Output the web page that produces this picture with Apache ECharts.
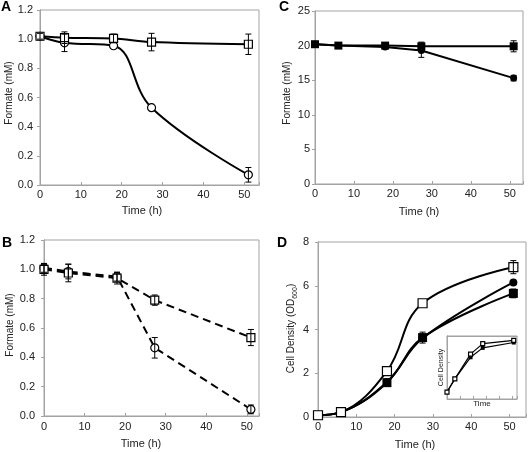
<!DOCTYPE html>
<html>
<head>
<meta charset="utf-8">
<script src="https://cdn.jsdelivr.net/npm/echarts@6/dist/echarts.min.js"></script>
<style>
html,body{margin:0;padding:0;background:#fff;}
#chart{width:529px;height:452px;}
</style>
</head>
<body>
<div id="chart"></div>
<script>
// ---- data ----
const timeH = [0, 6, 18, 27.3, 51];
const xTicks = [0, 10, 20, 30, 40, 50];

// Panel A (Formate, mM)
const aSquare    = [1.02, 1.01, 1.005, 0.98, 0.965];
const aSquareErr = [0.02, 0.04, 0.03, 0.06, 0.07];
const aCircle    = [1.02, 0.975, 0.955, 0.53, 0.07];
const aCircleErr = [0, 0.06, 0, 0, 0.05];

// Panel B (Formate, mM)
const bSquare    = [1.00, 0.975, 0.94, 0.79, 0.535];
const bSquareErr = [0.04, 0.06, 0.04, 0.035, 0.055];
const bCircle    = [1.01, 0.985, 0.95, 0.465, 0.045];
const bCircleErr = [0.03, 0.05, 0.03, 0.07, 0.03];

// Panel C (Formate, mM)
const cSquare    = [20.2, 20.0, 20.0, 19.9, 19.9];
const cSquareErr = [0, 0, 0.3, 0.6, 0.8];
const cCircle    = [20.2, 20.0, 19.8, 19.3, 15.3];
const cCircleErr = [0, 0, 0, 1.0, 0.4];

// Panel D (Cell density, OD600)
const dOpenSq      = [0.08, 0.22, 2.1, 5.2, 6.85];
const dOpenSqErr   = [0, 0, 0, 0, 0.3];
const dCircle      = [0.08, 0.22, 1.6, 3.6, 6.15];
const dCircleErr   = [0, 0, 0, 0, 0];
const dFilledSq    = [0.08, 0.22, 1.57, 3.63, 5.65];
const dFilledSqErr = [0, 0, 0, 0.25, 0.2];

// Inset (log cell density)
const insetOpen   = [0.08, 0.25, 2.1, 5.2, 6.85];
const insetFilled = [0.08, 0.25, 1.6, 3.6, 5.7];

// ---- styling ----
const FONT = "'Liberation Sans', Arial, sans-serif";
const GRAY = '#a3a3a3';
const TXT = '#222';

const grids = [
  {left: 40,  top: 10,  width: 219, height: 175},  // A
  {left: 44,  top: 240, width: 215, height: 176},  // B
  {left: 315, top: 11,  width: 208, height: 173},  // C
  {left: 318, top: 242, width: 208, height: 175},  // D
  {left: 447, top: 336, width: 70,  height: 63, backgroundColor: '#fff'}   // inset
].map(g => Object.assign({show: true, borderColor: GRAY, borderWidth: 1, containLabel: false}, g));

const xAxes = [], yAxes = [];
function addAxes(gi, c) {
  xAxes.push({
    type: 'value', gridIndex: gi, min: 0, max: c.xmax, interval: 10,
    axisLine: {show: true, lineStyle: {color: GRAY}},
    axisTick: {show: c.xticks !== false, inside: true, length: 3, lineStyle: {color: GRAY}},
    axisLabel: {show: c.xlabels !== false, fontSize: 11, color: TXT, fontFamily: FONT, margin: c.xmargin || 4,
      formatter: v => (xTicks.indexOf(v) >= 0 ? String(v) : '')},
    splitLine: {show: false},
    name: c.xname, nameLocation: 'middle', nameGap: c.xgap,
    nameTextStyle: {fontSize: c.xnameSize || 11, color: TXT, fontFamily: FONT, padding: c.xnamePad || 0}
  });
  xAxes.push({
    type: 'value', gridIndex: gi, position: 'top', min: 0, max: c.xmax, interval: 10,
    axisLine: {show: true, lineStyle: {color: GRAY}},
    axisTick: {show: false}, axisLabel: {show: false}, splitLine: {show: false}
  });
  yAxes.push({
    type: c.ylog ? 'log' : 'value', gridIndex: gi, min: c.ymin, max: c.ymax,
    interval: c.ylog ? undefined : c.yint, logBase: 10,
    axisLine: {show: true, lineStyle: {color: GRAY}},
    axisTick: {show: true, inside: !!c.ylog, length: 3, lineStyle: {color: GRAY}},
    axisLabel: {show: c.ylabels !== false, fontSize: 11, color: TXT, fontFamily: FONT, margin: c.ymargin || 6,
      padding: [4, 0, 0, 0],
      formatter: v => (c.yfix != null ? v.toFixed(c.yfix) : String(v))},
    splitLine: {show: false},
    name: c.yname, nameLocation: 'middle', nameGap: c.ygap,
    nameTextStyle: {fontSize: c.ynameSize || 10, color: TXT, fontFamily: FONT, padding: c.ynamePad || 0,
      rich: {sub: {fontSize: 7, verticalAlign: 'bottom', padding: [0, 0, -3, 0], fontFamily: FONT, color: TXT}}}
  });
  yAxes.push({
    type: c.ylog ? 'log' : 'value', gridIndex: gi, position: 'right', min: c.ymin, max: c.ymax,
    interval: c.ylog ? undefined : c.yint, logBase: 10,
    axisLine: {show: true, lineStyle: {color: GRAY}},
    axisTick: {show: !c.ylog, inside: true, length: 3, lineStyle: {color: GRAY}},
    axisLabel: {show: false}, splitLine: {show: false}
  });
}

addAxes(0, {xmax: 53.6, ymin: 0, ymax: 1.2, yint: 0.2, yfix: 1, xname: 'Time (h)', xgap: 20, xnamePad: [0, 15, 0, 0],
  yname: 'Formate (mM)', ygap: 24, ymargin: 7, ynamePad: [0, 0, 0, 9]});
addAxes(1, {xmax: 53, ymin: 0, ymax: 1.2, yint: 0.2, yfix: 1, xname: 'Time (h)', xgap: 22, xmargin: 5, xnamePad: [0, 21, 0, 0],
  yname: 'Formate (mM)', ygap: 29, ymargin: 9, ynamePad: [0, 0, 0, 6]});
addAxes(2, {xmax: 53.4, ymin: 0, ymax: 25, yint: 5, xname: 'Time (h)', xgap: 22,
  yname: 'Formate (mM)', ygap: 23, ymargin: 5, ynamePad: [0, 0, 0, 9]});
addAxes(3, {xmax: 54.3, ymin: 0, ymax: 8, yint: 2, xname: 'Time (h)', xgap: 22, xnamePad: [0, 14, 0, 0],
  yname: 'Cell Density (OD{sub|600})', ygap: 17, ymargin: 9, ynamePad: [0, 0, 0, 2]});
addAxes(4, {xmax: 53.5, ylog: true, ymin: 0.044, ymax: 10, xlabels: false, ylabels: false,
  xname: 'Time', xgap: 1, xnameSize: 8, yname: 'Cell Density', ygap: 2, ynameSize: 7});

function errBars(gi, vals, errs) {
  return {
    type: 'custom', xAxisIndex: 2 * gi, yAxisIndex: 2 * gi, z: 5, silent: true,
    data: timeH.map((t, i) => [t, vals[i], errs[i]]),
    encode: {x: 0, y: 1},
    renderItem: function (params, api) {
      const x = api.value(0), y = api.value(1), e = api.value(2);
      if (!e) return null;
      const p1 = api.coord([x, y + e]);
      const p2 = api.coord([x, y - e]);
      const hw = 3;
      const st = {stroke: '#000', lineWidth: 1};
      return {type: 'group', children: [
        {type: 'line', shape: {x1: p1[0], y1: p1[1], x2: p2[0], y2: p2[1]}, style: st},
        {type: 'line', shape: {x1: p1[0] - hw, y1: p1[1], x2: p1[0] + hw, y2: p1[1]}, style: st},
        {type: 'line', shape: {x1: p2[0] - hw, y1: p2[1], x2: p2[0] + hw, y2: p2[1]}, style: st}
      ]};
    }
  };
}

function line(gi, vals, o) {
  return {
    type: 'line', xAxisIndex: 2 * gi, yAxisIndex: 2 * gi, z: 3,
    data: timeH.map((t, i) => [t, vals[i]]),
    smooth: o.smooth || false,
    symbol: o.symbol, symbolSize: o.size || 8, showSymbol: true,
    lineStyle: {color: '#000', width: o.width || 2, type: o.dash || 'solid'},
    itemStyle: {color: o.filled ? '#000' : '#fff', borderColor: '#000', borderWidth: o.filled ? 0 : 1.2, opacity: 1},
    emphasis: {disabled: true}, animation: false
  };
}

const series = [
  // A
  line(0, aCircle, {symbol: 'circle', smooth: 0.4, size: 8}),
  line(0, aSquare, {symbol: 'rect', smooth: 0.3, size: 8}),
  errBars(0, aCircle, aCircleErr),
  errBars(0, aSquare, aSquareErr),
  // B
  line(1, bCircle, {symbol: 'circle', size: 8, dash: [8, 5]}),
  line(1, bSquare, {symbol: 'rect', size: 8, dash: [8, 5]}),
  errBars(1, bCircle, bCircleErr),
  errBars(1, bSquare, bSquareErr),
  // C
  line(2, cCircle, {symbol: 'circle', size: 7, filled: true}),
  line(2, cSquare, {symbol: 'rect', size: 8, filled: true}),
  errBars(2, cCircle, cCircleErr),
  errBars(2, cSquare, cSquareErr),
  // D
  line(3, dCircle, {symbol: 'circle', smooth: 0.4, size: 8, filled: true}),
  line(3, dFilledSq, {symbol: 'rect', smooth: 0.4, size: 9, filled: true}),
  line(3, dOpenSq, {symbol: 'rect', smooth: 0.4, size: 9}),
  errBars(3, dCircle, dCircleErr),
  errBars(3, dFilledSq, dFilledSqErr),
  errBars(3, dOpenSq, dOpenSqErr),
  // inset
  line(4, insetFilled, {symbol: 'rect', size: 4, filled: true, width: 1.2}),
  line(4, insetOpen, {symbol: 'rect', size: 4, width: 1.2})
];

const panelLetters = [
  {t: 'A', x: 1, y: 0}, {t: 'B', x: 2, y: 236}, {t: 'C', x: 279, y: 0}, {t: 'D', x: 277, y: 236}
];

const chart = echarts.init(document.getElementById('chart'), null, {renderer: 'canvas'});
chart.setOption({
  animation: false,
  backgroundColor: '#fff',
  grid: grids,
  xAxis: xAxes,
  yAxis: yAxes,
  series: series,
  graphic: panelLetters.map(p => ({
    type: 'text', left: p.x, top: p.y, z: 10,
    style: {text: p.t, fontSize: 14, fontWeight: 'bold', fontFamily: FONT, fill: '#000'}
  }))
});
</script>
</body>
</html>
